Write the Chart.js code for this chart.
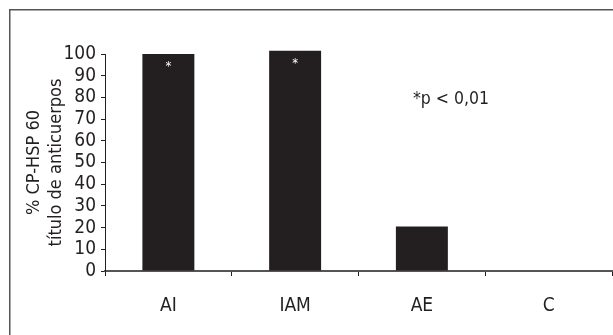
<!DOCTYPE html>
<html>
<head>
<meta charset="utf-8">
<script src="https://cdn.jsdelivr.net/npm/chart.js@4/dist/chart.umd.min.js"></script>
<style>
  html, body { margin: 0; padding: 0; background: #fff; }
  #wrap { position: relative; width: 613px; height: 335px; }
</style>
</head>
<body>
<div id="wrap"><canvas id="c" width="613" height="335"></canvas></div>
<script>
const categories = ["AI", "IAM", "AE", "C"];
const values = [100, 101.5, 20.5, 0];
const significant = [true, true, false, false];
const yTicks = [0, 10, 20, 30, 40, 50, 60, 70, 80, 90, 100];
const yTitle = ["% CP-HSP 60", "título de anticuerpos"];
const note = "*p < 0,01";

const FONT = "'DejaVu Sans Condensed', 'Liberation Sans Narrow', 'Liberation Sans', Arial, sans-serif";
const INK = "#231f20";
const AXIS = "#555555";

const framePlugin = {
  id: 'frame',
  beforeDraw(chart) {
    const ctx = chart.ctx;
    ctx.save();
    ctx.strokeStyle = AXIS;
    ctx.lineWidth = 1.5;
    ctx.beginPath();
    ctx.moveTo(9.75, 335);
    ctx.lineTo(9.75, 9.75);
    ctx.lineTo(613, 9.75);
    ctx.stroke();
    ctx.restore();
  }
};

const starsPlugin = {
  id: 'stars',
  afterDatasetsDraw(chart) {
    const ctx = chart.ctx;
    const meta = chart.getDatasetMeta(0);
    ctx.save();
    ctx.fillStyle = "#ffffff";
    ctx.font = "13px " + FONT;
    ctx.textAlign = "center";
    ctx.textBaseline = "top";
    meta.data.forEach((bar, i) => {
      if (significant[i]) ctx.fillText("*", bar.x, bar.y + 6);
    });
    const xs = chart.scales.x, ys = chart.scales.y;
    ctx.fillStyle = INK;
    ctx.font = "17.5px " + FONT;
    ctx.textAlign = "left";
    ctx.textBaseline = "middle";
    const nx = xs.getPixelForValue(2) - 9;
    const ny = ys.getPixelForValue(79);
    ctx.fillText(note, nx, ny);
    ctx.restore();
  }
};

new Chart(document.getElementById('c'), {
  type: 'bar',
  data: {
    labels: categories,
    datasets: [{
      data: values,
      backgroundColor: INK,
      borderWidth: 0,
      barPercentage: 0.41,
      categoryPercentage: 1,
      clip: false
    }]
  },
  options: {
    responsive: false,
    animation: false,
    devicePixelRatio: 1,
    layout: { padding: { left: 0, right: 1, top: 54, bottom: 0 } },
    plugins: { legend: { display: false }, tooltip: { enabled: false } },
    scales: {
      x: {
        grid: { display: true, drawOnChartArea: false, drawTicks: true, tickLength: 5, color: INK, lineWidth: 1, offset: true },
        border: { display: true, color: AXIS, width: 2 },
        ticks: { color: INK, font: { family: FONT, size: 19 }, padding: 19 },
        afterFit(s) { s.height = 64; }
      },
      y: {
        min: 0, max: 100,
        afterBuildTicks(s) { s.ticks = yTicks.map(v => ({ value: v })); },
        grid: { display: true, drawOnChartArea: false, drawTicks: true, tickLength: 4, color: INK, lineWidth: 1 },
        border: { display: true, color: INK, width: 1 },
        ticks: { color: INK, font: { family: FONT, size: 19, lineHeight: 1 }, padding: 5, autoSkip: false },
        title: { display: true, text: yTitle, color: INK, font: { family: FONT, size: 18, lineHeight: 1.2 }, padding: { top: 24, bottom: 0 } },
        afterFit(s) { s.width = 105; }
      }
    }
  },
  plugins: [framePlugin, starsPlugin]
});
</script>
</body>
</html>
